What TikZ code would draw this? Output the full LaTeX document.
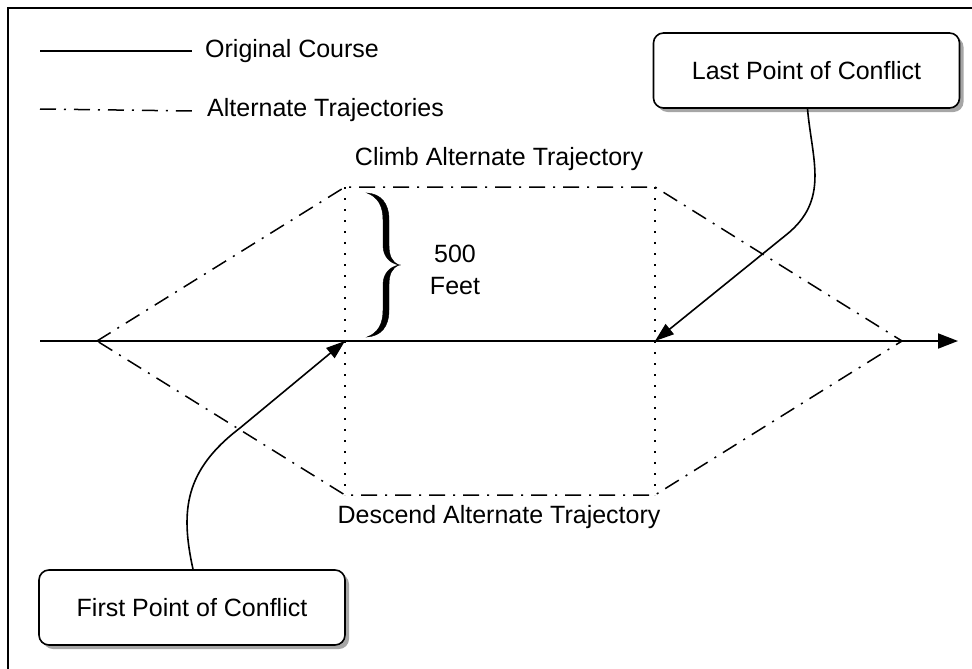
\documentclass[tikz,border=0pt]{standalone}
\usepackage{fontspec}
\setmainfont{Liberation Sans}
\usetikzlibrary{arrows.meta,shadows}
\begin{document}
\begin{tikzpicture}[x=1pt,y=-1pt,
  dashdot/.style={line width=1.5pt, dash pattern=on 16pt off 8pt on 2pt off 8pt},
  dotline/.style={line width=1.6pt, dash pattern=on 1.6pt off 9.4pt},
  solidline/.style={line width=1.9pt},
  lbl/.style={font=\fontsize{25}{32}\selectfont, inner sep=0pt},
  callout/.style={draw, line width=1.6pt, rounded corners=10pt, fill=white,
    minimum width=306pt, minimum height=75pt, inner sep=0pt,
    font=\fontsize{25}{28}\selectfont,
    drop shadow={shadow xshift=4pt, shadow yshift=-4pt, opacity=0.35, fill=black}},
  pointer/.style={line width=1.6pt, -{Triangle[length=19pt,width=13pt]}},
  bracefill/.style={fill=black, draw=black, line width=0.4pt}
]
\useasboundingbox (0,0) rectangle (972,669);
% frame
\draw[line width=1.4pt] (8,669) -- (8,8) -- (972,8);

% legend
\node[lbl, anchor=west] (legOrig) at (205,51) {Original Course};
\coordinate (legOrigS) at (40,51);
\draw[solidline] (legOrigS) -- ([xshift=-13pt]legOrig.west);
\node[lbl, anchor=west] (legAlt) at (207,110) {Alternate Trajectories};
\coordinate (legAltS) at (40,109);
\draw[dashdot] (legAltS) -- ([xshift=-14pt,yshift=-1pt]legAlt.west);

% trajectory points
\coordinate (L) at (97,341);
\coordinate (C1) at (345,187);
\coordinate (C2) at (655,187);
\coordinate (R) at (902,341);
\coordinate (D1) at (345,495);
\coordinate (D2) at (655,495);
\coordinate (firstPt) at (345,341);
\coordinate (lastPt) at (655,341);
\coordinate (axS) at (40,341);
\coordinate (axE) at (958,341);

\draw[dashdot] (L) -- (C1) -- (C2) -- (R) -- (D2) -- (D1) -- cycle;
\draw[dotline] (C1) -- (D1);
\draw[dotline] (C2) -- (D2);

% main course
\draw[solidline, -{Triangle[length=20pt,width=15pt]}] (axS) -- (axE);

% labels
\node[lbl] (climb) at (499,159) {Climb Alternate Trajectory};
\node[lbl] (desc) at (499,517) {Descend Alternate Trajectory};

% brace (500 feet)
\fill[bracefill] (367,193) .. controls (381,194) and (389,203) .. (389,220) -- (389,245)
  .. controls (389,256) and (392,262) .. (399,265)
  .. controls (389,263) and (383,256) .. (383,245) -- (383,220)
  .. controls (383,206) and (378,197) .. (367,193) -- cycle;
\fill[bracefill] (367,337) .. controls (381,336) and (389,327) .. (389,310) -- (389,285)
  .. controls (389,274) and (392,268) .. (399,265)
  .. controls (389,267) and (383,274) .. (383,285) -- (383,310)
  .. controls (383,324) and (378,333) .. (367,337) -- cycle;
\node[lbl, align=center] (feet) at (455,270) {500\\Feet};

% callouts
\node[callout] (last) at (806.5,70.5) {Last Point of Conflict};
\node[callout] (first) at (192,607.5) {First Point of Conflict};

\draw[pointer] ([xshift=1pt]last.south) .. controls (812,160) and (830,200) .. (786,235) -- (lastPt);
\draw[pointer] ([xshift=1pt]first.north) .. controls (180,510) and (185,470) .. (240,428) -- (firstPt);
\end{tikzpicture}
\end{document}
